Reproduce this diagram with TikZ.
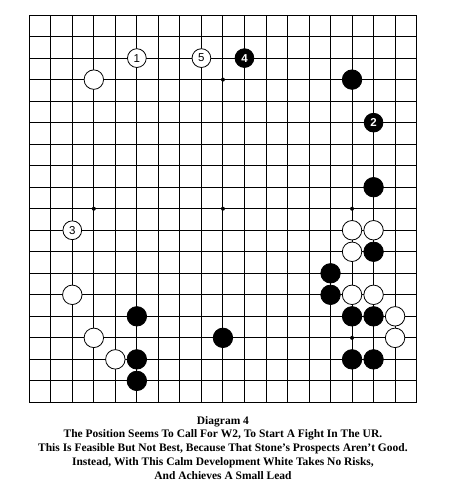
\documentclass[tikz,border=0pt]{standalone}
\usepackage{fontspec}
\setmainfont{Liberation Serif}
\newfontfamily\stonefont{Liberation Sans}

\tikzset{
  whitestone/.style={circle, draw=black, fill=white, line width=0.8pt, minimum size=19.5pt, inner sep=0pt, font=\stonefont\fontsize{11.5}{11.5}\selectfont},
  blackstone/.style={circle, draw=black, fill=black, line width=0.8pt, minimum size=19.5pt, inner sep=0pt, text=white, font=\stonefont\bfseries\fontsize{11.5}{11.5}\selectfont},
  numbered/.style={minimum size=18.8pt},
  hoshi/.style={circle, fill=black, inner sep=0pt, minimum size=4pt},
  captionline/.style={anchor=base, inner sep=0pt, font=\bfseries\fontsize{11.5}{12}\selectfont},
}

\begin{document}
\begin{tikzpicture}[x=21.55pt, y=21.55pt]
  \useasboundingbox (-1.36,-4.21) rectangle (19.64,18.70);
  % board
  \foreach \k in {0,...,18} {
    \draw[line width=0.9pt] (\k,0) -- (\k,18);
    \draw[line width=0.9pt] (0,\k) -- (18,\k);
  }
  \foreach \hx in {3,9,15}
    \foreach \hy in {3,9,15}
      \node[hoshi] (h-\hx-\hy) at (\hx,\hy) {};
  % white stones
  \foreach \sx/\sy in {3/15, 2/5, 3/3, 4/2, 15/8, 16/8, 15/7, 15/5, 16/5, 17/4, 17/3}
    \node[whitestone] (w-\sx-\sy) at (\sx,\sy) {};
  % black stones
  \foreach \sx/\sy in {15/15, 16/10, 5/4, 5/2, 5/1, 9/3, 16/7, 14/6, 14/5, 15/4, 16/4, 15/2, 16/2}
    \node[blackstone] (b-\sx-\sy) at (\sx,\sy) {};
  % numbered moves
  \node[whitestone, numbered] (m1) at (5,16) {1};
  \node[blackstone, numbered] (m2) at (16,13) {2};
  \node[whitestone, numbered] (m3) at (2,8) {3};
  \node[blackstone, numbered] (m4) at (10,16) {4};
  \node[whitestone, numbered] (m5) at (8,16) {5};
  % caption
  \foreach \txt [count=\i] in {
      {Diagram 4},
      {The Position Seems To Call For W2, To Start A Fight In The UR.},
      {This Is Feasible But Not Best, Because That Stone’s Prospects Aren’t Good.},
      {Instead, With This Calm Development White Takes No Risks,},
      {And Achieves A Small Lead}}
    \node[captionline] (cap-\i) at (9,{-1.007-0.64*(\i-1)}) {\txt};
\end{tikzpicture}
\end{document}
